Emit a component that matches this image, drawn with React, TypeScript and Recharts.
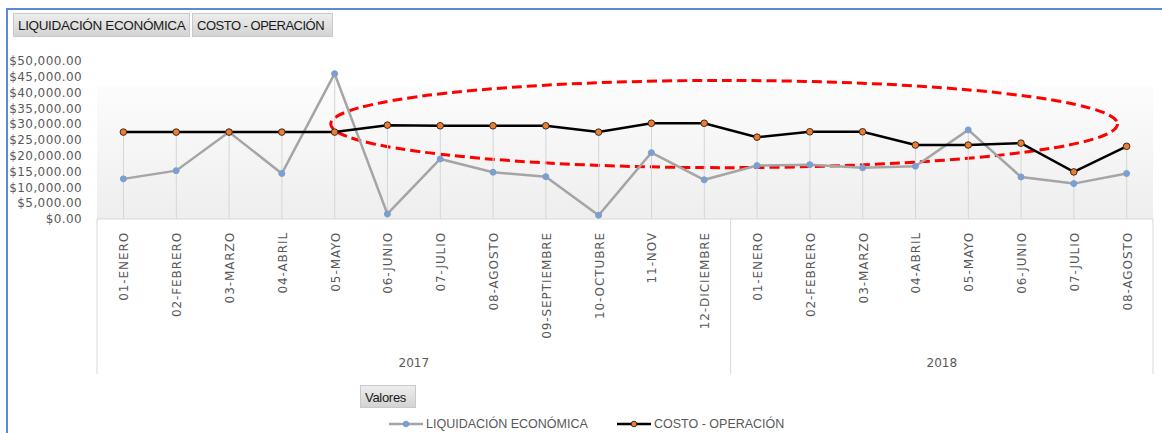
import {
  ComposedChart,
  Line,
  Bar,
  XAxis,
  YAxis,
  CartesianGrid,
  ReferenceArea,
} from "recharts";

const MONTH_LABELS = [
  "01-ENERO",
  "02-FEBRERO",
  "03-MARZO",
  "04-ABRIL",
  "05-MAYO",
  "06-JUNIO",
  "07-JULIO",
  "08-AGOSTO",
  "09-SEPTIEMBRE",
  "10-OCTUBRE",
  "11-NOV",
  "12-DICIEMBRE",
  "01-ENERO",
  "02-FEBRERO",
  "03-MARZO",
  "04-ABRIL",
  "05-MAYO",
  "06-JUNIO",
  "07-JULIO",
  "08-AGOSTO",
];

const MONTH_YEARS = [
  "2017", "2017", "2017", "2017", "2017", "2017",
  "2017", "2017", "2017", "2017", "2017", "2017",
  "2018", "2018", "2018", "2018", "2018", "2018", "2018", "2018",
];

const LIQUIDACION = [
  12700, 15300, 27500, 14400, 46000, 1600, 19000, 14800, 13400, 1200,
  21000, 12400, 16900, 17200, 16200, 16700, 28200, 13300, 11200, 14400,
];

const COSTO = [
  27500, 27500, 27500, 27500, 27500, 29700, 29500, 29500, 29500, 27500,
  30300, 30300, 25900, 27600, 27600, 23400, 23400, 24000, 14900, 23000,
];

const Y_TICKS = [0, 5000, 10000, 15000, 20000, 25000, 30000, 35000, 40000, 45000, 50000];

// highlighted zone (data units) for the red dashed ellipse
const HIGHLIGHT_FROM = 4;
const HIGHLIGHT_TO = 19;
const HIGHLIGHT_LOW = 16250;
const HIGHLIGHT_HIGH = 43850;

const CHART_W = 1162;
const CHART_H = 433;
const Y_AXIS_W = 97;
const RIGHT = 9;
const PLOT_W = CHART_W - Y_AXIS_W - RIGHT;
const BAND = PLOT_W / MONTH_LABELS.length;
const AXIS_GREY = "#595959";

const rows = MONTH_LABELS.map((label, i) => ({
  id: `${MONTH_YEARS[i]}-${i}`,
  label,
  year: MONTH_YEARS[i],
  liquidacion: LIQUIDACION[i],
  costo: COSTO[i],
  drop: Math.max(LIQUIDACION[i], COSTO[i]),
}));

const formatMoney = (v: number) =>
  "$" +
  v.toLocaleString("en-US", { minimumFractionDigits: 2, maximumFractionDigits: 2 });

const MonthTick = (props: any) => {
  const { x, y, index } = props;
  const row = rows[index];
  if (!row) return null;
  const first = index === 0 || rows[index - 1].year !== row.year;
  const last = index === rows.length - 1;
  let count = 0;
  if (first) {
    count = rows.filter((r) => r.year === row.year).length;
  }
  return (
    <g>
      <text
        x={x + 1}
        y={y + 13}
        transform={`rotate(-90 ${x + 1} ${y + 13})`}
        textAnchor="end"
        dominantBaseline="central"
        fontFamily="DejaVu Sans"
        fontSize={12}
        letterSpacing={0.9}
        fill={AXIS_GREY}
      >
        {row.label}
      </text>
      {first && (
        <>
          <line x1={x - BAND / 2} x2={x - BAND / 2} y1={y} y2={y + 155} stroke="#d9d9d9" />
          <text
            x={x + ((count - 1) * BAND) / 2}
            y={y + 144}
            textAnchor="middle"
            dominantBaseline="central"
            fontFamily="DejaVu Sans"
            fontSize={12}
            fill={AXIS_GREY}
          >
            {row.year}
          </text>
        </>
      )}
      {last && (
        <line x1={x + BAND / 2} x2={x + BAND / 2} y1={y} y2={y + 155} stroke="#d9d9d9" />
      )}
    </g>
  );
};

const Ellipse = (props: any) => {
  const { x, y, width, height } = props;
  return (
    <ellipse
      cx={x + width / 2 - 6.5}
      cy={y + height / 2}
      rx={width / 2 - 29}
      ry={height / 2}
      fill="none"
      stroke="#ff0000"
      strokeWidth={3}
      strokeDasharray="10 5"
    />
  );
};

const buttonStyle: React.CSSProperties = {
  position: "absolute",
  height: 24,
  lineHeight: "24px",
  boxSizing: "border-box",
  background: "linear-gradient(#ededed, #d3d3d3)",
  border: "1px solid #c9c9c9",
  fontFamily: "Liberation Sans",
  fontSize: 13.5,
  letterSpacing: -0.35,
  color: "#1a1a1a",
  paddingLeft: 4,
  overflow: "hidden",
  whiteSpace: "nowrap",
};

const LegendItem = ({
  left,
  line,
  dotFill,
  dotStroke,
  thick,
  text,
}: {
  left: number;
  line: string;
  dotFill: string;
  dotStroke: string;
  thick: number;
  text: string;
}) => (
  <div
    style={{
      position: "absolute",
      left,
      top: 416,
      height: 16,
      display: "flex",
      alignItems: "center",
      fontFamily: "Liberation Sans",
      fontSize: 12.5,
      color: AXIS_GREY,
      whiteSpace: "nowrap",
    }}
  >
    <svg width={34} height={10} style={{ marginRight: 3 }}>
      <line x1={0} x2={34} y1={5} y2={5} stroke={line} strokeWidth={thick} />
      <circle cx={17} cy={5} r={2.8} fill={dotFill} stroke={dotStroke} />
    </svg>
    {text}
  </div>
);

export default function App() {
  return (
    <div
      style={{
        position: "relative",
        width: CHART_W,
        height: CHART_H,
        overflow: "hidden",
        background: "#fff",
      }}
    >
      <style>{"body{margin:0;overflow:hidden}"}</style>
      <div
        style={{
          position: "absolute",
          left: 6,
          top: 8,
          width: 1300,
          height: 600,
          border: "2px solid #5b88d8",
          boxSizing: "border-box",
        }}
      />
      <div style={{ ...buttonStyle, left: 13, top: 13, width: 177 }}>
        LIQUIDACIÓN ECONÓMICA
      </div>
      <div
        style={{ ...buttonStyle, left: 192, top: 13, width: 141, fontSize: 13, letterSpacing: -0.5 }}
      >
        COSTO - OPERACIÓN
      </div>

      <div style={{ position: "absolute", left: 0, top: 0 }}>
        <ComposedChart
          width={CHART_W}
          height={CHART_H}
          data={rows}
          margin={{ top: 61, right: RIGHT, left: 0, bottom: 59 }}
        >
          <defs>
            <linearGradient id="plotBg" x1="0" y1="0" x2="0" y2="1">
              <stop offset="0" stopColor="#ffffff" />
              <stop offset="0.15" stopColor="#ffffff" />
              <stop offset="0.16" stopColor="#fcfcfc" />
              <stop offset="1" stopColor="#eeeeee" />
            </linearGradient>
          </defs>
          <CartesianGrid
            horizontal={false}
            vertical={false}
            fill="url(#plotBg)"
            stroke="none"
          />
          <XAxis
            dataKey="id"
            interval={0}
            height={155}
            tickSize={0}
            tickMargin={0}
            tick={<MonthTick />}
            axisLine={{ stroke: "#d9d9d9" }}
            tickLine={false}
          />
          <YAxis
            width={Y_AXIS_W}
            domain={[0, 50000]}
            ticks={Y_TICKS}
            interval={0}
            tickFormatter={formatMoney}
            axisLine={false}
            tickLine={false}
            tickSize={0}
            tickMargin={15}
            tick={{
              fill: AXIS_GREY,
              fontSize: 12,
              fontFamily: "DejaVu Sans",
              letterSpacing: 0.4,
            }}
          />
          <Bar
            dataKey="drop"
            barSize={1}
            fill="#d6d6d6"
            isAnimationActive={false}
          />
          <Line
            dataKey="liquidacion"
            stroke="#a5a5a5"
            strokeWidth={2.5}
            dot={{ r: 3, fill: "#7a9fd0", stroke: "#7a9fd0", strokeWidth: 1 }}
            activeDot={false}
            isAnimationActive={false}
          />
          <Line
            dataKey="costo"
            stroke="#000000"
            strokeWidth={2.5}
            dot={{ r: 3.3, fill: "#ed7d31", stroke: "#3b2a1e", strokeWidth: 1 }}
            activeDot={false}
            isAnimationActive={false}
          />
          <ReferenceArea
            x1={rows[HIGHLIGHT_FROM].id}
            x2={rows[HIGHLIGHT_TO].id}
            y1={HIGHLIGHT_LOW}
            y2={HIGHLIGHT_HIGH}
            shape={<Ellipse />}
            ifOverflow="visible"
          />
        </ComposedChart>
      </div>

      <div
        style={{
          ...buttonStyle,
          left: 360,
          top: 385,
          width: 56,
          height: 23,
          lineHeight: "23px",
          fontSize: 13,
          letterSpacing: -0.3,
          paddingLeft: 4,
        }}
      >
        Valores
      </div>

      <LegendItem
        left={389}
        line="#a5a5a5"
        dotFill="#7a9fd0"
        dotStroke="#7a9fd0"
        thick={2.5}
        text="LIQUIDACIÓN ECONÓMICA"
      />
      <LegendItem
        left={617}
        line="#000000"
        dotFill="#ed7d31"
        dotStroke="#3b2a1e"
        thick={2.5}
        text="COSTO - OPERACIÓN"
      />
    </div>
  );
}
